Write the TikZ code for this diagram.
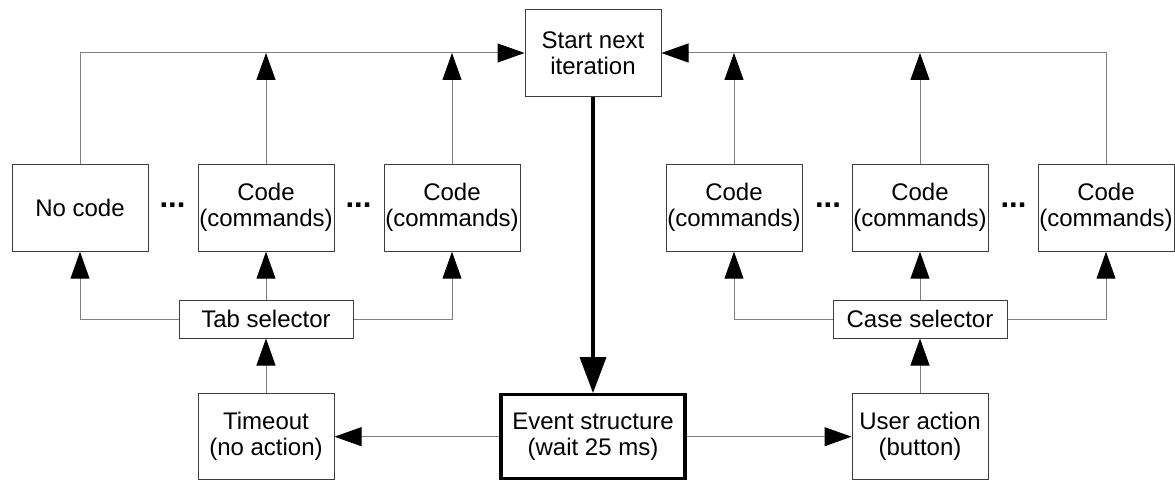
\documentclass[tikz,border=0pt]{standalone}
\usepackage{fontspec}
\setmainfont{Liberation Sans}
\usetikzlibrary{arrows.meta}
\definecolor{linegray}{RGB}{128,128,128}
\definecolor{boxgray}{RGB}{60,60,60}

\begin{document}
\begin{tikzpicture}[x=1pt,y=1pt,
  box/.style={draw=boxgray,line width=1pt,minimum width=136pt,minimum height=87pt,
    inner sep=0pt,align=center,font=\fontsize{24}{26}\selectfont},
  selbox/.style={box,minimum width=174pt,minimum height=37.5pt},
  link/.style={draw=linegray,line width=1pt,-{Triangle[length=27pt,width=19pt,color=black]}},
  dots/.style={inner sep=0pt,font=\fontsize{31}{31}\selectfont\bfseries}]
\useasboundingbox (0,0) rectangle (1175,482);
% top and bottom of the loop
\node[box] (start) at (593,429) {Start next\\iteration};
\node[box,draw=black,line width=3.3pt,minimum width=184pt,minimum height=84pt] (event) at (593,45.3) {Event structure\\(wait 25 ms)};
\node[box,minimum height=86.5pt] (timeout) at (266,45.3) {Timeout\\(no action)};
\node[box,minimum height=86.5pt] (user) at (920,45.3) {User action\\(button)};
% selectors
\node[selbox] (tab) at (266,162.7) {Tab selector};
\node[selbox] (case) at (920,162.7) {Case selector};
% code boxes
\node[box] (nocode) at (80,274.3) {No code};
\node[box] (codeA) at (266,274.3) {Code\\(commands)};
\node[box] (codeB) at (452,274.3) {Code\\(commands)};
\node[box] (codeC) at (734,274.3) {Code\\(commands)};
\node[box] (codeD) at (920,274.3) {Code\\(commands)};
\node[box] (codeE) at (1106,274.3) {Code\\(commands)};
\node[dots] (dotsA) at (172.5,277) {...};
\node[dots] (dotsB) at (358.5,277) {...};
\node[dots] (dotsC) at (828,277) {...};
\node[dots] (dotsD) at (1013.5,277) {...};
% connectors
\draw[link,line width=3.5pt,draw=black,-{Triangle[length=36pt,width=26pt]}] (start.south) -- (event.north);
\draw[link] (event.west) -- (timeout.east);
\draw[link] (event.east) -- (user.west);
\draw[link] (timeout.north) -- (tab.south);
\draw[link] (user.north) -- (case.south);
\draw[link] (tab.west) -| (nocode.south);
\draw[link] (tab.north) -- (codeA.south);
\draw[link] (tab.east) -| (codeB.south);
\draw[link] (case.west) -| (codeC.south);
\draw[link] (case.north) -- (codeD.south);
\draw[link] (case.east) -| (codeE.south);
\draw[link] (nocode.north) |- (start.west);
\draw[link] (codeA.north) -- (codeA.north |- start.west);
\draw[link] (codeB.north) -- (codeB.north |- start.west);
\draw[link] (codeE.north) |- (start.east);
\draw[link] (codeC.north) -- (codeC.north |- start.east);
\draw[link] (codeD.north) -- (codeD.north |- start.east);
\end{tikzpicture}
\end{document}
